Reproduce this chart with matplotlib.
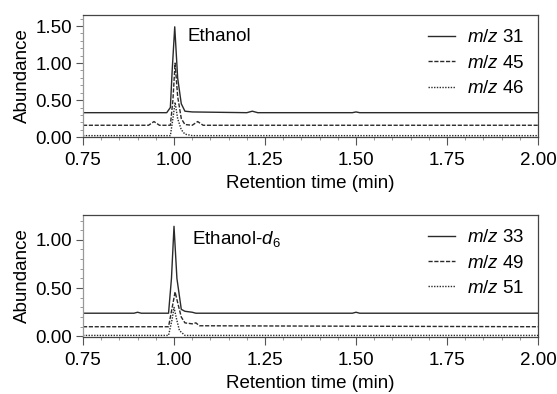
import numpy as np
import matplotlib
matplotlib.use("Agg")
import matplotlib.pyplot as plt
from matplotlib.ticker import MultipleLocator

plt.rcParams['font.family'] = ['Liberation Sans', 'DejaVu Sans']
plt.rcParams['mathtext.fontset'] = 'custom'
plt.rcParams['mathtext.rm'] = 'Liberation Sans'
plt.rcParams['mathtext.it'] = 'Liberation Sans:italic'

# Ethanol traces
t31 = [0.75, 0.98, 0.99, 0.995, 1.002, 1.01, 1.02, 1.03, 1.05, 1.20, 1.215, 1.23, 1.49, 1.50, 1.51, 2.00]
a31 = [0.33, 0.33, 0.40, 0.90, 1.49, 0.80, 0.45, 0.35, 0.34, 0.33, 0.35, 0.33, 0.33, 0.34, 0.33, 0.33]
t45 = [0.75, 0.93, 0.945, 0.96, 0.99, 0.997, 1.003, 1.01, 1.02, 1.03, 1.05, 1.065, 1.08, 2.00]
a45 = [0.16, 0.16, 0.21, 0.16, 0.16, 0.50, 1.00, 0.55, 0.25, 0.17, 0.16, 0.21, 0.16, 0.16]
t46 = [0.75, 0.99, 0.997, 1.003, 1.01, 1.02, 1.03, 1.05, 2.00]
a46 = [0.02, 0.02, 0.25, 0.47, 0.25, 0.10, 0.04, 0.02, 0.02]

# Ethanol-d6 traces
t33 = [0.75, 0.89, 0.90, 0.91, 0.985, 0.993, 1.000, 1.008, 1.02, 1.03, 1.05, 1.06, 1.49, 1.50, 1.51, 2.00]
a33 = [0.24, 0.24, 0.25, 0.24, 0.24, 0.60, 1.14, 0.60, 0.28, 0.26, 0.25, 0.24, 0.24, 0.25, 0.24, 0.24]
t49 = [0.75, 0.985, 0.995, 1.003, 1.01, 1.02, 1.03, 1.05, 1.06, 1.07, 2.00]
a49 = [0.10, 0.10, 0.30, 0.46, 0.35, 0.20, 0.14, 0.13, 0.14, 0.11, 0.10]
t51 = [0.75, 0.985, 0.995, 1.000, 1.007, 1.015, 1.03, 2.00]
a51 = [0.01, 0.01, 0.18, 0.30, 0.18, 0.06, 0.01, 0.01]

panels = [
    ('Ethanol', [(t31, a31, '31'), (t45, a45, '45'), (t46, a46, '46')], (0.0, 1.65), (0.23, 0.82)),
    ('Ethanol-$d_6$', [(t33, a33, '33'), (t49, a49, '49'), (t51, a51, '51')], (-0.005, 1.26), (0.24, 0.80)),
]
styles = ['-', (0, (3, 1.2)), (0, (1, 1))]
col = '#2a2a2a'
fs = 13.5

fig = plt.figure(figsize=(5.57, 3.94), dpi=100)
boxes = [[0.149, 0.652, 0.817, 0.310], [0.149, 0.145, 0.817, 0.310]]

for box, (name, traces, ylim, tpos) in zip(boxes, panels):
    ax = fig.add_axes(box)
    for (t, a, mz), ls in zip(traces, styles):
        ax.plot(t, a, color=col, lw=1.0, ls=ls, label='$m/z$ ' + mz)
    ax.set_xlim(0.75, 2.0)
    ax.set_ylim(*ylim)
    ax.xaxis.set_major_locator(MultipleLocator(0.25))
    ax.xaxis.set_minor_locator(MultipleLocator(0.05))
    ax.yaxis.set_major_locator(MultipleLocator(0.5))
    ax.yaxis.set_minor_locator(MultipleLocator(0.1))
    ax.xaxis.set_major_formatter(matplotlib.ticker.FormatStrFormatter('%.2f'))
    ax.yaxis.set_major_formatter(matplotlib.ticker.FormatStrFormatter('%.2f'))
    ax.tick_params(which='major', direction='out', length=5, width=0.8, labelsize=fs, color='#555555', pad=3)
    ax.tick_params(which='minor', direction='out', length=2.5, width=0.6, color='#888888')
    ax.tick_params(axis='x', which='major', length=6, pad=5)
    for s in ax.spines.values():
        s.set_color('#444444')
        s.set_linewidth(0.9)
    ax.spines['left'].set_color('#999999')
    ax.set_xlabel('Retention time (min)', fontsize=fs, labelpad=4)
    ax.set_ylabel('Abundance', fontsize=fs, labelpad=3)
    ax.text(tpos[0], tpos[1], name, transform=ax.transAxes, fontsize=fs, va='center', ha='left')
    ax.legend(loc='upper right', frameon=False, fontsize=fs, handlelength=1.45,
              handletextpad=0.6, labelspacing=0.44, borderaxespad=0.2,
              bbox_to_anchor=(0.994, 0.975))

fig.savefig('out.png', dpi=100)
